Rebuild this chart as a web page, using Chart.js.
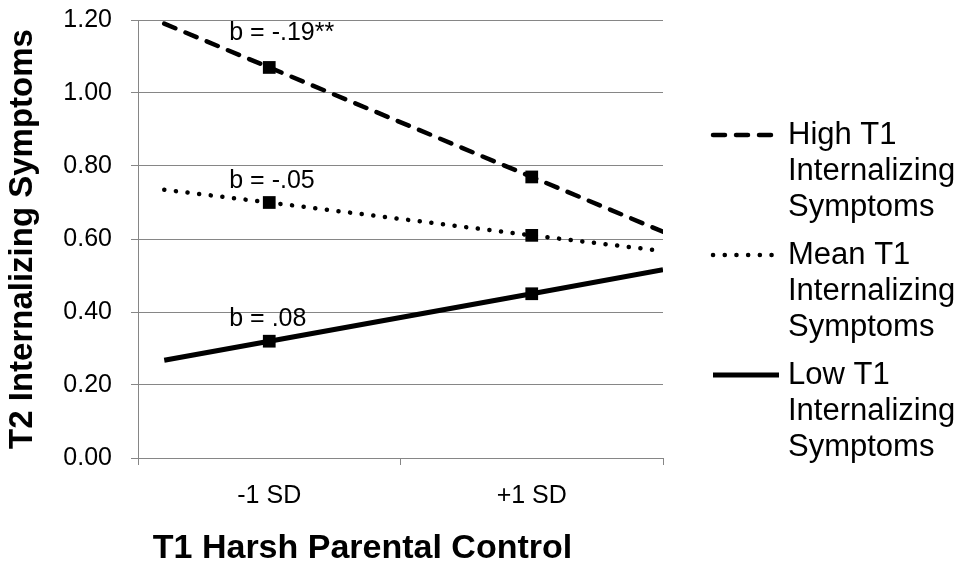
<!DOCTYPE html>
<html>
<head>
<meta charset="utf-8">
<title>T2 Internalizing Symptoms by T1 Harsh Parental Control</title>
<script src="https://cdn.jsdelivr.net/npm/chart.js@4.4.1/dist/chart.umd.min.js"></script>
<style>
  html, body { margin: 0; padding: 0; background: #fff; }
  #wrap { width: 968px; height: 566px; }
  canvas { display: block; }
</style>
</head>
<body>
<div id="wrap"><canvas id="chart" width="968" height="566"></canvas></div>
<script>
// ---- data ----
const categories = ['-1 SD', '+1 SD'];
const seriesNames = [
  ['High T1', 'Internalizing', 'Symptoms'],
  ['Mean T1', 'Internalizing', 'Symptoms'],
  ['Low T1', 'Internalizing', 'Symptoms']
];
const highT1 = [1.07, 0.77];
const meanT1 = [0.70, 0.61];
const lowT1 = [0.32, 0.45];
// simple-slope lines are drawn a little past the two markers
const lineSpan = [0.6, 2.5];
const highLine = [1.19, 0.62];
const meanLine = [0.735, 0.567];
const lowLine = [0.268, 0.516];
const slopeLabels = ['b = -.19**', 'b = -.05', 'b = .08'];
const yTicks = [0, 0.2, 0.4, 0.6, 0.8, 1.0, 1.2];
const xTitle = 'T1 Harsh Parental Control';
const yTitle = 'T2 Internalizing Symptoms';

const FONT = "'Liberation Sans', Arial, Helvetica, sans-serif";
const GRID = '#868686';

function series(name, marks, line, style) {
  return Object.assign({
    label: name.join(' '),
    data: [
      { x: lineSpan[0], y: line[0] },
      { x: 1, y: marks[0] },
      { x: 2, y: marks[1] },
      { x: lineSpan[1], y: line[1] }
    ],
    borderColor: '#000',
    backgroundColor: '#000',
    pointRadius: [0, 9, 9, 0],
    pointHoverRadius: [0, 9, 9, 0],
    pointStyle: 'rect',
    pointBackgroundColor: '#000',
    pointBorderColor: '#000',
    pointBorderWidth: 0,
    fill: false,
    tension: 0
  }, style);
}

const datasets = [
  series(seriesNames[0], highT1, highLine, { borderWidth: 4.5, borderDash: [12, 11], borderCapStyle: 'round' }),
  series(seriesNames[1], meanT1, meanLine, { borderWidth: 4.5, borderDash: [0.1, 11.6], borderCapStyle: 'round' }),
  series(seriesNames[2], lowT1, lowLine, { borderWidth: 5, borderCapStyle: 'butt' })
];

// legend drawn at the right with wrapped series names
const sideLegend = {
  id: 'sideLegend',
  afterDraw(chart, args, opts) {
    const ctx = chart.ctx;
    ctx.save();
    ctx.font = opts.font;
    ctx.fillStyle = '#000';
    ctx.textAlign = 'left';
    ctx.textBaseline = 'middle';
    chart.data.datasets.forEach((ds, i) => {
      const y0 = opts.top + i * opts.entryGap;
      ctx.beginPath();
      ctx.strokeStyle = ds.borderColor;
      ctx.lineWidth = ds.borderWidth;
      ctx.setLineDash(ds.borderDash || []);
      ctx.lineCap = ds.borderCapStyle || 'butt';
      ctx.moveTo(opts.x0, y0);
      ctx.lineTo(opts.x1, y0);
      ctx.stroke();
      ctx.setLineDash([]);
      seriesNames[i].forEach((t, k) => ctx.fillText(t, opts.textX, y0 + k * opts.lineHeight));
    });
    ctx.restore();
  }
};

// slope labels placed above the -1 SD marker of each line
const slopeText = {
  id: 'slopeText',
  afterDatasetsDraw(chart, args, opts) {
    const ctx = chart.ctx;
    ctx.save();
    ctx.font = opts.font;
    ctx.fillStyle = '#000';
    ctx.textAlign = 'left';
    ctx.textBaseline = 'alphabetic';
    chart.data.datasets.forEach((ds, i) => {
      const pt = chart.getDatasetMeta(i).data[1];
      ctx.fillText(slopeLabels[i], pt.x + opts.dx, pt.y - opts.rise[i]);
    });
    ctx.restore();
  }
};

// horizontal axis title, set a little left of the plot centre
const bottomTitle = {
  id: 'bottomTitle',
  afterDraw(chart, args, opts) {
    const ctx = chart.ctx;
    const a = chart.chartArea;
    ctx.save();
    ctx.font = opts.font;
    ctx.fillStyle = '#000';
    ctx.textAlign = 'center';
    ctx.textBaseline = 'alphabetic';
    ctx.fillText(xTitle, (a.left + a.right) / 2 + opts.dx, opts.baseline);
    ctx.restore();
  }
};

new Chart(document.getElementById('chart'), {
  type: 'line',
  data: { datasets },
  plugins: [sideLegend, slopeText, bottomTitle],
  options: {
    responsive: false,
    devicePixelRatio: 1,
    animation: false,
    layout: { padding: { top: 20, right: 305, bottom: 0, left: 0 } },
    plugins: {
      legend: { display: false },
      tooltip: { enabled: false },
      sideLegend: { font: '31px ' + FONT, top: 135, entryGap: 120, lineHeight: 36, x0: 713, x1: 779, textX: 788 },
      slopeText: { font: '25px ' + FONT, dx: -40, rise: [27, 15, 15] },
      bottomTitle: { font: 'bold 34px ' + FONT, dx: -38, baseline: 558 }
    },
    scales: {
      x: {
        type: 'linear',
        min: 0.5,
        max: 2.5,
        afterBuildTicks: (axis) => { axis.ticks = [0.5, 1, 1.5, 2, 2.5].map(v => ({ value: v })); },
        afterFit: (scale) => { scale.height = 108; scale.paddingLeft = 0; scale.paddingRight = 0; },
        ticks: {
          autoSkip: false,
          maxRotation: 0,
          padding: 16,
          color: '#000',
          font: { family: FONT, size: 25 },
          callback: (v) => Number.isInteger(v) ? categories[v - 1] : ''
        },
        grid: {
          drawOnChartArea: false,
          drawTicks: true,
          tickLength: 7,
          color: (c) => (c.tick && Number.isInteger(c.tick.value)) ? 'rgba(0,0,0,0)' : GRID
        },
        border: { display: true, color: GRID, width: 1 },
        title: { display: false }
      },
      y: {
        min: 0,
        max: 1.2,
        afterBuildTicks: (axis) => { axis.ticks = yTicks.map(v => ({ value: v })); },
        afterFit: (scale) => { scale.width = 138; scale.paddingTop = 0; scale.paddingBottom = 0; },
        ticks: {
          padding: 19,
          color: '#000',
          font: { family: FONT, size: 25 },
          callback: (v) => Number(v).toFixed(2)
        },
        grid: { color: GRID, lineWidth: 1, tickLength: 7 },
        border: { display: true, color: GRID, width: 1 },
        title: {
          display: true,
          text: yTitle,
          color: '#000',
          font: { family: FONT, size: 33, weight: 'bold', lineHeight: 1.2 },
          padding: { top: 3, bottom: 0 }
        }
      }
    }
  }
});
</script>
</body>
</html>
